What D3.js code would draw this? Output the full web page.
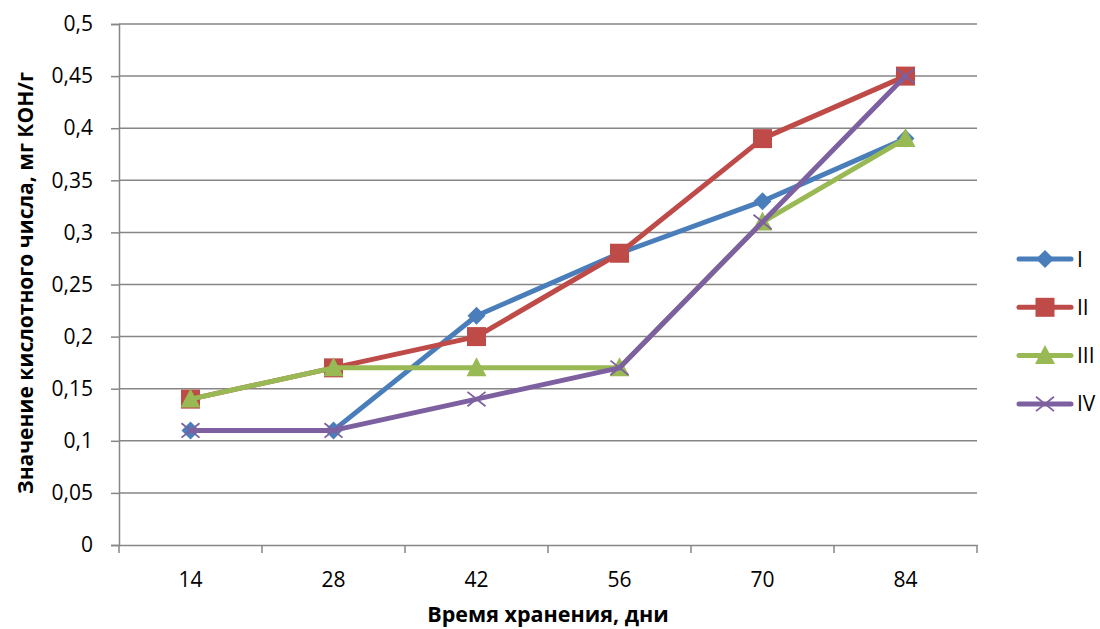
<!DOCTYPE html>
<html>
<head>
<meta charset="utf-8">
<script src="https://cdn.jsdelivr.net/npm/d3@7/dist/d3.min.js"></script>
<style>
  html, body { margin: 0; padding: 0; background: #fff; }
  svg { display: block; font-family: "Open Sans", "Noto Sans", sans-serif; }
</style>
</head>
<body>
<svg id="chart" width="1100" height="629"></svg>
<script>
// Storage time (days) on the x axis
const days = ["14", "28", "42", "56", "70", "84"];
// Acid number, mg KOH/g, for each sample
const seriesI   = [0.11, 0.11, 0.22, 0.28, 0.33, 0.39];
const seriesII  = [0.14, 0.17, 0.20, 0.28, 0.39, 0.45];
const seriesIII = [0.14, 0.17, 0.17, 0.17, 0.31, 0.39];
const seriesIV  = [0.11, 0.11, 0.14, 0.17, 0.31, 0.45];
const seriesNames = ["I", "II", "III", "IV"];
const yTicks = [0, 0.05, 0.1, 0.15, 0.2, 0.25, 0.3, 0.35, 0.4, 0.45, 0.5];

const series = [
  { name: seriesNames[0], values: seriesI,   color: "#4A7EBB", marker: "diamond" },
  { name: seriesNames[1], values: seriesII,  color: "#BE4B48", marker: "square" },
  { name: seriesNames[2], values: seriesIII, color: "#98B954", marker: "triangle" },
  { name: seriesNames[3], values: seriesIV,  color: "#7D60A0", marker: "cross" }
];

const svg = d3.select("#chart");
const plot = { left: 119, right: 977, top: 24, bottom: 545 };
const gridColor = "#868686";
const labelSize = 21;
const titleSize = 21;

const x = d3.scaleBand().domain(days).range([plot.left, plot.right]).padding(0);
const y = d3.scaleLinear().domain([0, 0.5]).range([plot.bottom, plot.top]);
const fmt = v => String(+v.toFixed(2)).replace(".", ",");

// Horizontal gridlines
svg.append("g").selectAll("line").data(yTicks.filter(t => t > 0)).join("line")
  .attr("x1", plot.left).attr("x2", plot.right)
  .attr("y1", d => y(d)).attr("y2", d => y(d))
  .attr("stroke", gridColor).attr("stroke-width", 1.5);

// Y axis
const yAxis = svg.append("g").attr("transform", `translate(${plot.left},0)`)
  .call(d3.axisLeft(y).tickValues(yTicks).tickFormat(fmt).tickSize(8).tickPadding(18));
yAxis.attr("font-size", null).attr("font-family", null);
yAxis.select(".domain").attr("stroke", gridColor).attr("stroke-width", 1.5);
yAxis.selectAll(".tick line").attr("stroke", gridColor).attr("stroke-width", 1.5);
yAxis.selectAll(".tick text").attr("font-size", labelSize).attr("fill", "#000");

// X axis with ticks at band boundaries
const xAxis = svg.append("g").attr("transform", `translate(0,${plot.bottom})`)
  .call(d3.axisBottom(x).tickSize(0).tickPadding(27));
xAxis.attr("font-size", null).attr("font-family", null);
xAxis.select(".domain").attr("stroke", gridColor).attr("stroke-width", 1.5);
xAxis.selectAll(".tick text").attr("font-size", labelSize).attr("fill", "#000");
const bounds = days.map(d => x(d)).concat([x(days[days.length - 1]) + x.bandwidth()]);
xAxis.append("g").selectAll("line").data(bounds).join("line")
  .attr("x1", d => d).attr("x2", d => d).attr("y1", 0).attr("y2", 8)
  .attr("stroke", gridColor).attr("stroke-width", 1.5);

// Axis titles
svg.append("text")
  .attr("x", 548).attr("y", 622)
  .attr("text-anchor", "middle").attr("font-size", titleSize + 0.5).attr("font-weight", "bold")
  .text("Время хранения, дни");
svg.append("text")
  .attr("transform", `translate(33,283) rotate(-90)`)
  .attr("text-anchor", "middle").attr("font-size", titleSize).attr("font-weight", "bold")
  .text("Значение кислотного числа, мг КОН/г");

// Marker shapes
function drawMarker(g, type, color, cx, cy, s) {
  if (type === "diamond") {
    g.append("path").attr("d", `M${cx},${cy - s}L${cx + s},${cy}L${cx},${cy + s}L${cx - s},${cy}Z`)
      .attr("fill", color);
  } else if (type === "square") {
    g.append("rect").attr("x", cx - s).attr("y", cy - s).attr("width", 2 * s).attr("height", 2 * s)
      .attr("fill", color);
  } else if (type === "triangle") {
    g.append("path").attr("d", `M${cx},${cy - s * 1.05}L${cx + s},${cy + s * 0.85}L${cx - s},${cy + s * 0.85}Z`)
      .attr("fill", color);
  } else {
    g.append("path").attr("d", `M${cx - s},${cy - s * 0.8}L${cx + s},${cy + s * 0.8}M${cx - s},${cy + s * 0.8}L${cx + s},${cy - s * 0.8}`)
      .attr("stroke", color).attr("stroke-width", 1.8).attr("fill", "none");
  }
}

const line = d3.line().x((d, i) => x(days[i]) + x.bandwidth() / 2).y(d => y(d));
const markerSize = { diamond: 9, square: 9.5, triangle: 10, cross: 9 };

series.forEach(s => {
  const g = svg.append("g");
  g.append("path").datum(s.values).attr("d", line)
    .attr("fill", "none").attr("stroke", s.color).attr("stroke-width", 5)
    .attr("stroke-linejoin", "round").attr("stroke-linecap", "round");
  s.values.forEach((v, i) => {
    drawMarker(g, s.marker, s.color, x(days[i]) + x.bandwidth() / 2, y(v), markerSize[s.marker]);
  });
});

// Legend
const legend = svg.append("g");
series.forEach((s, i) => {
  const ly = 259 + i * 48.3;
  const g = legend.append("g");
  g.append("line").attr("x1", 1019).attr("x2", 1071).attr("y1", ly).attr("y2", ly)
    .attr("stroke", s.color).attr("stroke-width", 5).attr("stroke-linecap", "round");
  drawMarker(g, s.marker, s.color, 1045, ly, markerSize[s.marker]);
  g.append("text").attr("x", 1077).attr("y", ly + 7.5).attr("font-size", labelSize).text(s.name);
});
</script>
</body>
</html>
